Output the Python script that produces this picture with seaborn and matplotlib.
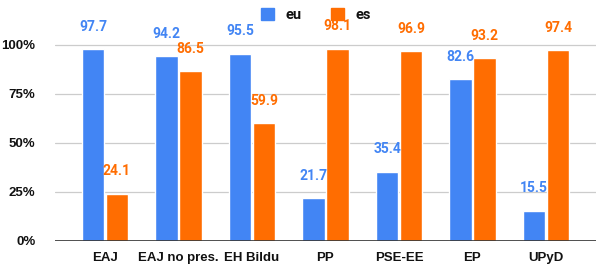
import pandas as pd
import numpy as np
import matplotlib.pyplot as plt
import seaborn as sns

partidos = ["EAJ", "EAJ no pres.", "EH Bildu", "PP", "PSE-EE", "EP", "UPyD"]
eu = [97.7, 94.2, 95.5, 21.7, 35.4, 82.6, 15.5]
es = [24.1, 86.5, 59.9, 98.1, 96.9, 93.2, 97.4]
y_ticks = [0, 25, 50, 75, 100]
y_labels = ["0%", "25%", "50%", "75%", "100%"]

colores = {"eu": "#4285F4", "es": "#FF6D01"}

df = pd.DataFrame({"partido": partidos * 2,
                   "valor": eu + es,
                   "lengua": ["eu"] * len(eu) + ["es"] * len(es)})

sns.set_theme(style="white")
plt.rcParams['font.family'] = ['Roboto', 'DejaVu Sans']

fig = plt.figure(figsize=(6.1, 2.77), dpi=100)
ax = fig.add_axes([0.09, 0.13, 0.887, 0.85])

sns.barplot(data=df, x="partido", y="valor", hue="lengua", palette=colores,
            width=0.65, gap=0.06, ax=ax, legend=False, saturation=1)

# etiquetas de valor
for cont, serie in zip(ax.containers, ["eu", "es"]):
    for barra in cont:
        h = barra.get_height()
        ax.annotate(f"{h:.1f}", (barra.get_x() + barra.get_width() / 2, h),
                    xytext=(0, 16), textcoords="offset points",
                    ha="center", va="center", color=colores[serie],
                    fontsize=10, fontweight="bold")

ax.set_ylim(0, 120)
ax.set_xlim(-0.68, 6.68)
ax.set_yticks(y_ticks)
ax.set_yticklabels(y_labels, family="Liberation Sans", fontweight="bold",
                   fontsize=9.5, color="#111111")
ax.tick_params(axis="x", length=0, pad=8)
ax.tick_params(axis="y", length=0, pad=14)
for t in ax.get_xticklabels():
    t.set_family("Liberation Sans")
    t.set_fontweight("bold")
    t.set_fontsize(9.5)
    t.set_color("#111111")
ax.set_xlabel("")
ax.set_ylabel("")
ax.yaxis.grid(True, color="#cccccc", linewidth=0.9)
ax.set_axisbelow(True)
for s in ax.spines.values():
    s.set_visible(False)
ax.axhline(0, color="#333333", linewidth=1.2)

# leyenda
handles = [plt.Rectangle((0, 0), 1, 1, color=colores[k]) for k in ["eu", "es"]]
fig.legend(handles, ["eu", "es"], ncol=2, loc="upper center",
           bbox_to_anchor=(0.518, 1.02), frameon=False, labelcolor="#111111",
           prop={"family": "Roboto", "weight": "bold", "size": 10.5},
           handlelength=0.9, handleheight=0.9,
           columnspacing=2.0, handletextpad=0.8)

plt.savefig("out.png", dpi=100)
